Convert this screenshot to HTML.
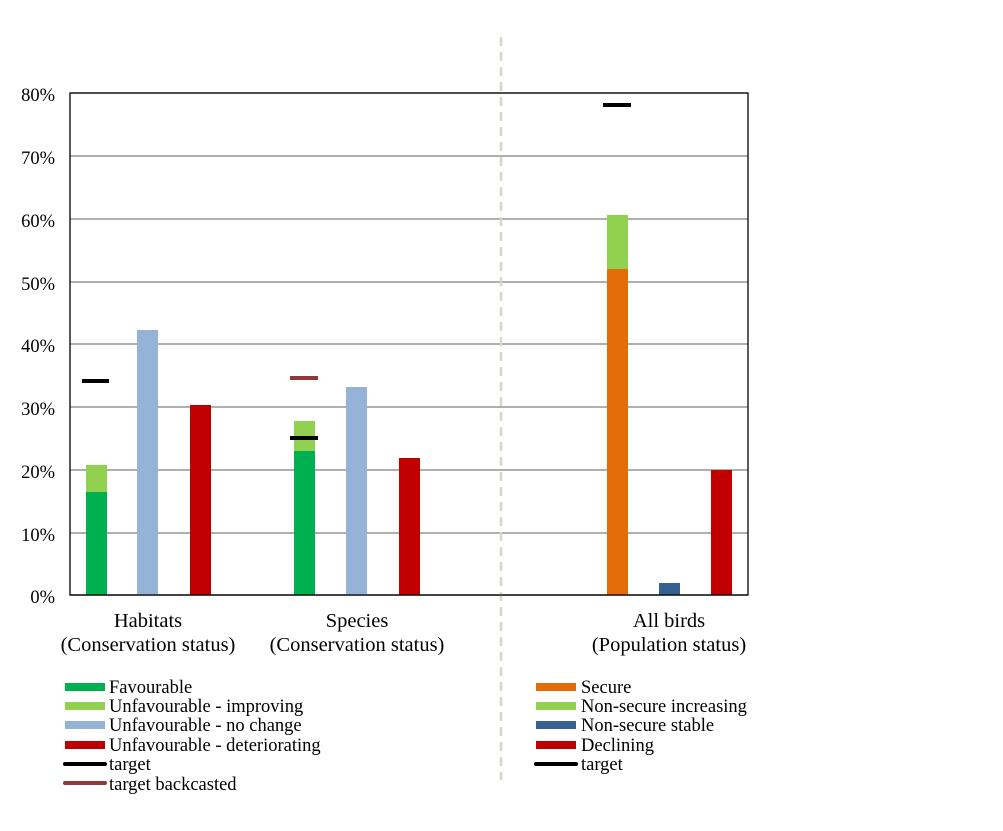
<!DOCTYPE html>
<html><head><meta charset="utf-8"><style>
body{margin:0;background:#fff}
svg text{font-family:"Liberation Serif",serif;font-size:18.5px;fill:#000}
svg text.cat{font-size:20.5px}
</style></head><body>
<svg width="1003" height="826" xmlns="http://www.w3.org/2000/svg">
<rect width="1003" height="826" fill="#fff"/>
<g stroke="#7f7f7f" stroke-width="1.3">
<line x1="70" y1="93" x2="748" y2="93"/>
<line x1="70" y1="156" x2="748" y2="156"/>
<line x1="70" y1="219" x2="748" y2="219"/>
<line x1="70" y1="282" x2="748" y2="282"/>
<line x1="70" y1="344" x2="748" y2="344"/>
<line x1="70" y1="407" x2="748" y2="407"/>
<line x1="70" y1="470" x2="748" y2="470"/>
<line x1="70" y1="533" x2="748" y2="533"/>
</g>
<rect x="70" y="93" width="678" height="502" fill="none" stroke="#000" stroke-width="1.3"/>
<g text-anchor="end">
<text x="55" y="101">80%</text><text x="55" y="164">70%</text><text x="55" y="227">60%</text>
<text x="55" y="290">50%</text><text x="55" y="352">40%</text><text x="55" y="415">30%</text>
<text x="55" y="478">20%</text><text x="55" y="541">10%</text><text x="55" y="603">0%</text>
</g>
<line x1="501" y1="37" x2="501" y2="780" stroke="#d9d6c3" stroke-width="2.5" stroke-dasharray="9,6"/>
<rect x="86" y="492" width="21" height="103" fill="#00b050"/>
<rect x="86" y="465" width="21" height="27" fill="#92d050"/>
<rect x="137" y="330" width="21" height="265" fill="#95b3d7"/>
<rect x="190" y="405" width="21" height="190" fill="#c00000"/>
<rect x="82" y="379" width="27" height="4" fill="#000"/>
<rect x="294" y="451" width="21" height="144" fill="#00b050"/>
<rect x="294" y="421" width="21" height="30" fill="#92d050"/>
<rect x="290" y="436" width="28" height="4" fill="#000"/>
<rect x="290" y="376" width="28" height="4" fill="#953735"/>
<rect x="346" y="387" width="21" height="208" fill="#95b3d7"/>
<rect x="399" y="458" width="21" height="137" fill="#c00000"/>
<rect x="607" y="269" width="21" height="326" fill="#e36c09"/>
<rect x="607" y="215" width="21" height="54" fill="#92d050"/>
<rect x="659" y="583" width="21" height="12" fill="#366092"/>
<rect x="711" y="470" width="21" height="125" fill="#c00000"/>
<rect x="603" y="103" width="28" height="4" fill="#000"/>
<line x1="70" y1="595" x2="748" y2="595" stroke="#000" stroke-width="1.3"/>
<g text-anchor="middle">
<text class="cat" x="148" y="627">Habitats</text><text class="cat" x="148" y="651">(Conservation status)</text>
<text class="cat" x="357" y="627">Species</text><text class="cat" x="357" y="651">(Conservation status)</text>
<text class="cat" x="669" y="627">All birds</text><text class="cat" x="669" y="651">(Population status)</text>
</g>
<rect x="65" y="683" width="40" height="8" fill="#00b050"/><text x="109" y="693">Favourable</text>
<rect x="65" y="702" width="40" height="8" fill="#92d050"/><text x="109" y="712">Unfavourable - improving</text>
<rect x="65" y="721" width="40" height="8" fill="#95b3d7"/><text x="109" y="731">Unfavourable - no change</text>
<rect x="65" y="741" width="40" height="8" fill="#c00000"/><text x="109" y="751">Unfavourable - deteriorating</text>
<line x1="65" y1="764" x2="105" y2="764" stroke="#000" stroke-width="4" stroke-linecap="round"/><text x="109" y="770">target</text>
<line x1="65" y1="783" x2="105" y2="783" stroke="#953735" stroke-width="4" stroke-linecap="round"/><text x="109" y="790">target backcasted</text>
<rect x="536" y="683" width="40" height="8" fill="#e36c09"/><text x="581" y="693">Secure</text>
<rect x="536" y="702" width="40" height="8" fill="#92d050"/><text x="581" y="712">Non-secure increasing</text>
<rect x="536" y="721" width="40" height="8" fill="#366092"/><text x="581" y="731">Non-secure stable</text>
<rect x="536" y="741" width="40" height="8" fill="#c00000"/><text x="581" y="751">Declining</text>
<line x1="536" y1="764" x2="576" y2="764" stroke="#000" stroke-width="4" stroke-linecap="round"/><text x="581" y="770">target</text>
</svg>
</body></html>
